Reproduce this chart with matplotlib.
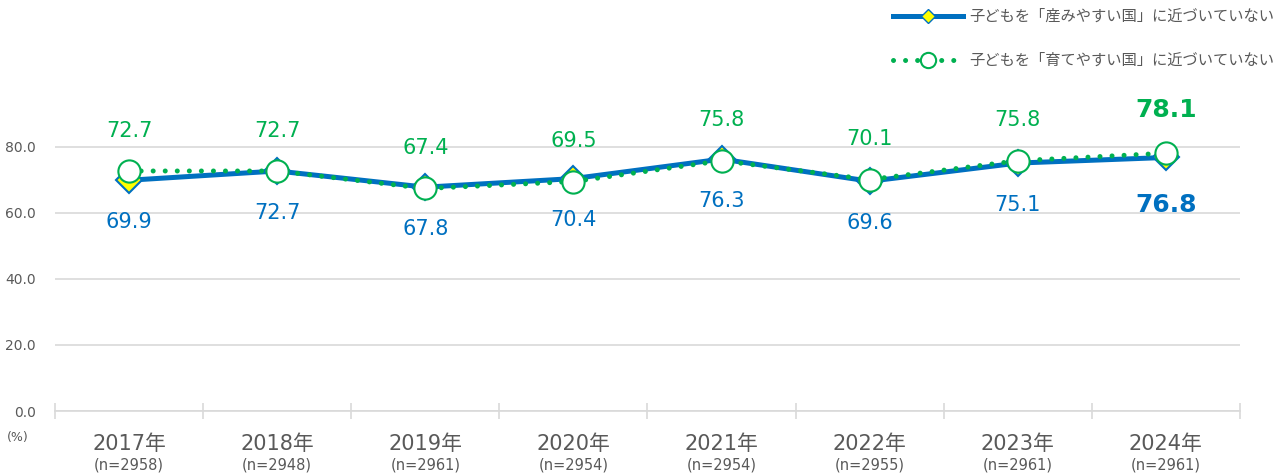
import matplotlib.pyplot as plt
from matplotlib.lines import Line2D

plt.rcParams['font.family'] = ['DejaVu Sans', 'Noto Sans CJK JP']

years = ['2017年', '2018年', '2019年', '2020年', '2021年', '2022年', '2023年', '2024年']
samples = ['(n=2958)', '(n=2948)', '(n=2961)', '(n=2954)', '(n=2954)', '(n=2955)', '(n=2961)', '(n=2961)']
birth = [69.9, 72.7, 67.8, 70.4, 76.3, 69.6, 75.1, 76.8]
raise_ = [72.7, 72.7, 67.4, 69.5, 75.8, 70.1, 75.8, 78.1]
birth_label = '子どもを「産みやすい国」に近づいていない'
raise_label = '子どもを「育てやすい国」に近づいていない'

blue = '#0070C0'
green = '#00B050'
gray = '#595959'

fig = plt.figure(figsize=(12.88, 4.74), dpi=100)
ax = fig.add_axes([0.0427, 0.1329, 0.92, 0.70])

x = list(range(len(years)))
ax.plot(x, birth, color=blue, lw=3.6, marker='D', ms=13, mfc='#FFFF00', mec=blue, mew=1.5, zorder=3)
ax.plot(x, raise_, color=green, lw=3.6, ls=(0, (0.01, 2.4)), dash_capstyle='round',
        marker='o', ms=16, mfc='white', mec=green, mew=1.5, zorder=4)

for i in x:
    last = i == len(x) - 1
    fs = 18 if last else 15
    fw = 'bold' if last else 'normal'
    up = 31 if last else 29
    down = -34 if last else -30
    ax.annotate(f'{raise_[i]:.1f}', (i, raise_[i]), xytext=(0, up), textcoords='offset points',
                ha='center', va='center', color=green, fontsize=fs, fontweight=fw)
    ax.annotate(f'{birth[i]:.1f}', (i, birth[i]), xytext=(0, down), textcoords='offset points',
                ha='center', va='center', color=blue, fontsize=fs, fontweight=fw)

ax.set_xlim(-0.5, len(x) - 0.5)
ax.set_ylim(0, 100.5)
ax.set_yticks([0, 20, 40, 60, 80])
ax.set_yticklabels(['0.0', '20.0', '40.0', '60.0', '80.0'])
ax.tick_params(axis='y', length=0, labelsize=10, labelcolor=gray, pad=14)
ax.grid(axis='y', color='#D9D9D9', lw=1.2)
ax.set_axisbelow(True)

ax.set_xticks(x)
ax.set_xticklabels([''] * len(x))
ax.tick_params(axis='x', which='major', length=0)
ax.set_xticks([i - 0.5 for i in range(len(x) + 1)], minor=True)
ax.tick_params(axis='x', which='minor', length=12, direction='inout', color='#D9D9D9', width=1.2)
for i in x:
    ax.text(i, -0.10, years[i], transform=ax.get_xaxis_transform(), ha='center', va='center',
            fontsize=15, color=gray)
    ax.text(i, -0.163, samples[i], transform=ax.get_xaxis_transform(), ha='center', va='center',
            fontsize=10.5, color=gray)

for s in ['top', 'right', 'left']:
    ax.spines[s].set_visible(False)
ax.spines['bottom'].set_color('#D9D9D9')
ax.spines['bottom'].set_linewidth(1.2)

fig.text(18 / 1288, 1 - 437 / 474, '(%)', fontsize=9, color=gray, ha='center', va='center')

handles = [
    Line2D([], [], color=blue, lw=3.6, marker='D', ms=7, mfc='#FFFF00', mec=blue),
    Line2D([], [], color=green, lw=3.6, ls=(0, (0.01, 2.4)), dash_capstyle='round',
           marker='o', ms=11, mfc='white', mec=green, mew=1.5),
]
fig.legend(handles, [birth_label, raise_label], loc='upper right', bbox_to_anchor=(1.0, 1.01),
           frameon=False, fontsize=11, labelcolor=gray, handlelength=4.6, labelspacing=1.9,
           handletextpad=0.4)

fig.savefig('out.png', dpi=100)
